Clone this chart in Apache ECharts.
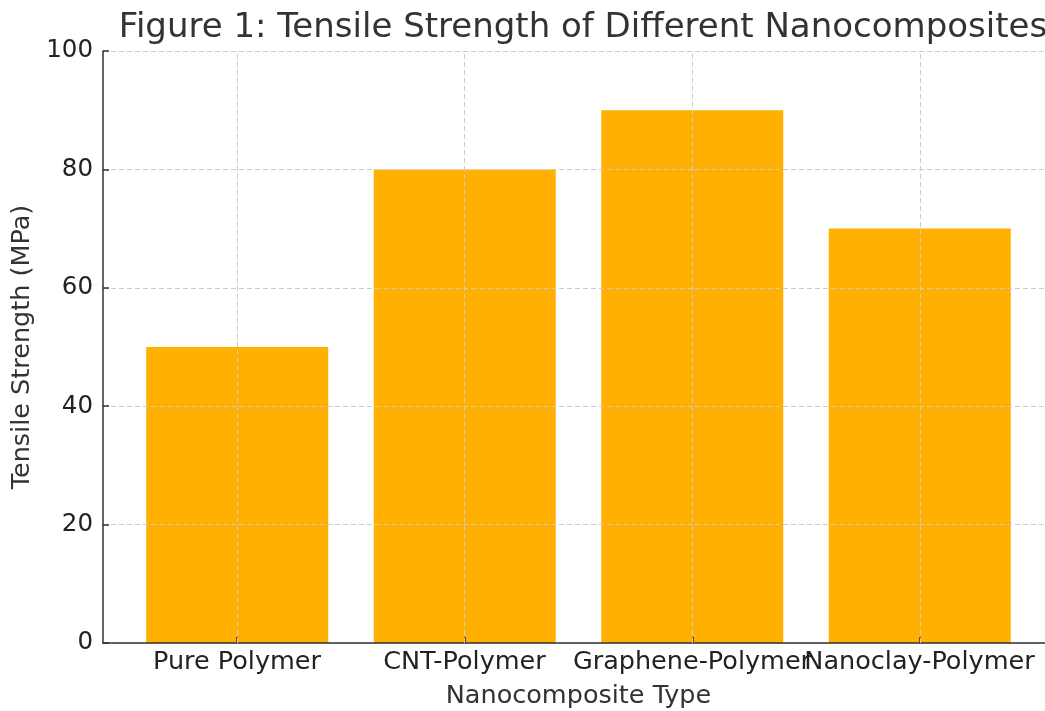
<!DOCTYPE html>
<html><head><meta charset="utf-8">
<script src="https://cdn.jsdelivr.net/npm/echarts@6/dist/echarts.min.js"></script>
<style>html,body{margin:0;padding:0;background:#fff}#c{width:1045px;height:711px}</style>
</head><body><div id="c"></div>
<script>
const categories = ['Pure Polymer', 'CNT-Polymer', 'Graphene-Polymer', 'Nanoclay-Polymer'];
const strengths = [50, 80, 90, 70];
const yTicks = [0, 20, 40, 60, 80, 100];
const catPositions = categories.map((c, i) => i);

const chart = echarts.init(document.getElementById('c'), null, {renderer: 'canvas'});
const font = 'DejaVu Sans';
chart.setOption({
  animation: false,
  backgroundColor: '#ffffff',
  title: {
    text: 'Figure 1: Tensile Strength of Different Nanocomposites',
    left: 578, top: 6, textAlign: 'center',
    textStyle: {fontFamily: font, fontSize: 34, fontWeight: 'normal', color: '#333333'}
  },
  grid: [
    {left: 103, right: -9, top: 51, bottom: 68, containLabel: false, outerBoundsMode: 'none'},
    {left: 123.25, right: 11.75, top: 51, bottom: 68, containLabel: false, outerBoundsMode: 'none'}
  ],
  xAxis: [{
    type: 'value', min: -0.59, max: 3.59, z: 5, gridIndex: 0,
    name: 'Nanocomposite Type', nameLocation: 'middle', nameGap: 40,
    nameTextStyle: {fontFamily: font, fontSize: 25.5, color: '#333333'},
    axisLine: {show: true, onZero: false, lineStyle: {color: '#333333', width: 1.5}},
    axisTick: {show: true, inside: true, length: 6, customValues: catPositions, lineStyle: {color: '#333333', width: 1.5}},
    axisLabel: {show: false},
    splitLine: {show: false}
  }, {
    type: 'category', data: categories, gridIndex: 1, boundaryGap: true,
    axisLine: {show: false}, axisTick: {show: false}, splitLine: {show: false},
    axisLabel: {interval: 0, hideOverlap: false, margin: 6, fontFamily: font, fontSize: 25.5, color: '#222222'}
  }],
  yAxis: [{
    type: 'value', min: 0, max: 100, interval: 20, z: 5, gridIndex: 0,
    name: 'Tensile Strength (MPa)', nameLocation: 'middle', nameGap: 68, nameRotate: 90,
    nameTextStyle: {fontFamily: font, fontSize: 25.5, color: '#333333'},
    axisLine: {show: true, onZero: false, lineStyle: {color: '#333333', width: 1.5}},
    axisTick: {show: true, inside: true, length: 6, lineStyle: {color: '#333333', width: 1.5}},
    axisLabel: {margin: 10, fontFamily: font, fontSize: 24.5, color: '#222222'},
    splitLine: {show: true, lineStyle: {color: '#cccccc', type: [5, 3], width: 1}}
  }, {
    type: 'value', min: 0, max: 100, gridIndex: 1, show: false
  }],
  series: [{
    type: 'bar', xAxisIndex: 0, yAxisIndex: 0,
    data: categories.map((c, i) => [catPositions[i], strengths[i]]),
    barWidth: 182,
    itemStyle: {color: '#FFB000'},
    markLine: {
      silent: true, symbol: 'none', z: 10,
      label: {show: false},
      lineStyle: {color: '#cccccc', type: [5, 3], width: 1},
      data: catPositions.map(p => ({xAxis: p}))
    }
  }]
});
</script>
</body></html>
